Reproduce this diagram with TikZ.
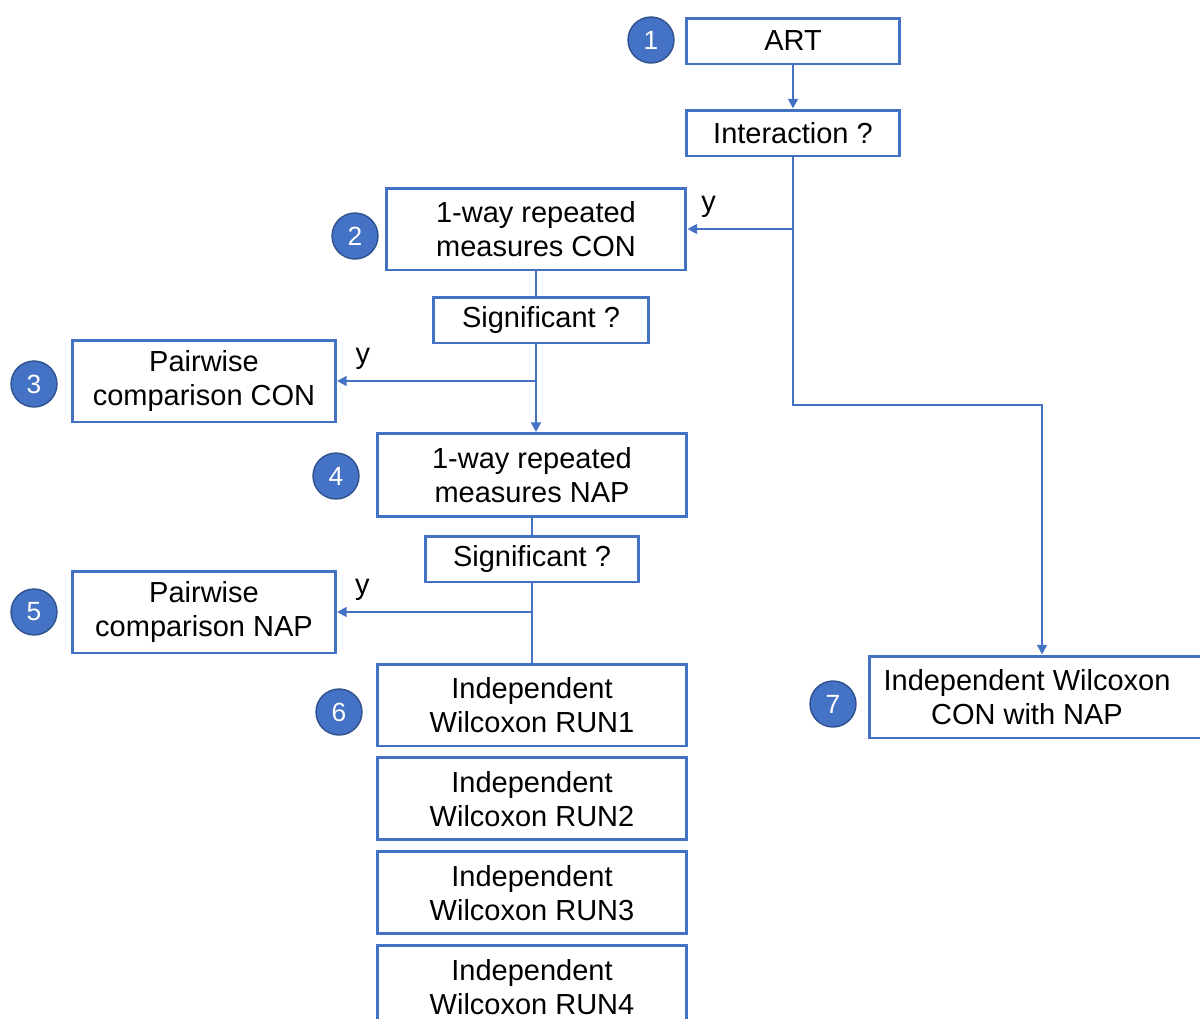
\documentclass[tikz,border=0pt]{standalone}
\usepackage{fontspec}
\setmainfont{Liberation Sans}
\usepackage{tikz}
\usetikzlibrary{arrows.meta,positioning}
\definecolor{flowBlue}{HTML}{4472C4}
\definecolor{flowBlueDark}{HTML}{2F528F}
\tikzset{
  stepbox/.style={draw=flowBlue, line width=1.7pt, fill=white, align=center, inner sep=2pt, font=\fontsize{16.5}{19.5}\selectfont},
  numdot/.style={circle, fill=flowBlue, draw=flowBlueDark, line width=0.8pt, text=white, minimum size=0.92cm, inner sep=0pt, font=\fontsize{15}{18}\selectfont},
  arrflow/.style={draw=flowBlue, line width=1.6pt, -{Triangle[length=5.5pt,width=5.5pt]}},
  lineflow/.style={draw=flowBlue, line width=1.6pt},
  ylab/.style={font=\fontsize{16.5}{19.5}\selectfont, inner sep=1pt},
}
\begin{document}
\begin{tikzpicture}[x=0.02cm, y=-0.02cm, node distance=0.18cm]
\path[use as bounding box, clip] (0,0) rectangle (1200,1018);
% main column
\node[stepbox, minimum width=4.28cm, minimum height=0.92cm] (art) at (793,41) {ART};
\node[stepbox, minimum width=4.28cm, minimum height=0.92cm] (inter) at (793,133) {Interaction ?};
\node[stepbox, minimum width=6cm, minimum height=1.64cm] (rmcon) at (536,229) {1-way repeated\\measures CON};
\node[stepbox, minimum width=4.3cm, minimum height=0.92cm] (sigcon) at (541,320) {Significant ?};
\node[stepbox, minimum width=5.26cm, minimum height=1.64cm] (paircon) at (204,381) {Pairwise\\comparison CON};
\node[stepbox, minimum width=6.2cm, minimum height=1.66cm] (rmnap) at (532,475) {1-way repeated\\measures NAP};
\node[stepbox, minimum width=4.28cm, minimum height=0.92cm] (signap) at (532,559) {Significant ?};
\node[stepbox, minimum width=5.26cm, minimum height=1.64cm] (pairnap) at (204,612) {Pairwise\\comparison NAP};
% wilcoxon runs
\node[stepbox, minimum width=6.2cm, minimum height=1.64cm] (run1) at (532,705) {Independent\\Wilcoxon RUN1};
\node[stepbox, minimum width=6.2cm, minimum height=1.64cm, below=of run1] (run2) {Independent\\Wilcoxon RUN2};
\node[stepbox, minimum width=6.2cm, minimum height=1.64cm, below=of run2] (run3) {Independent\\Wilcoxon RUN3};
\node[stepbox, minimum width=6.2cm, minimum height=1.64cm, below=of run3] (run4) {Independent\\Wilcoxon RUN4};
\node[stepbox, minimum width=6.9cm, minimum height=1.64cm] (wilcon) at (1042,697) {Independent Wilcoxon\hspace*{0.6cm}\\CON with NAP\hspace*{0.6cm}};
% numbers
\node[numdot] (n1) at (651,40) {1};
\node[numdot] (n2) at (355,236) {2};
\node[numdot] (n3) at (34,384) {3};
\node[numdot] (n4) at (336,476) {4};
\node[numdot] (n5) at (34,612) {5};
\node[numdot] (n6) at (339,712) {6};
\node[numdot] (n7) at (833,704) {7};
% connectors
\coordinate (bend) at (inter.south |- 0,405);
\draw[arrflow] (art) -- (inter);
\draw[arrflow] (inter.south) -- (bend) -| (wilcon.north);
\draw[arrflow] (inter.south |- rmcon.east) -- node[ylab, above=5pt, pos=0.8] {y} (rmcon.east);
\draw[lineflow] (rmcon.south) -- (rmcon.south |- sigcon.north);
\draw[arrflow] (rmcon.south |- sigcon.south) -- (rmcon.south |- rmnap.north);
\draw[arrflow] (rmcon.south |- paircon.east) -- node[ylab, above=5pt, pos=0.87] {y} (paircon.east);
\draw[lineflow] (rmnap.south) -- (signap.north);
\draw[lineflow] (signap.south) -- (run1.north);
\draw[arrflow] (signap.south |- pairnap.east) -- node[ylab, above=5pt, pos=0.87] {y} (pairnap.east);
\end{tikzpicture}
\end{document}
